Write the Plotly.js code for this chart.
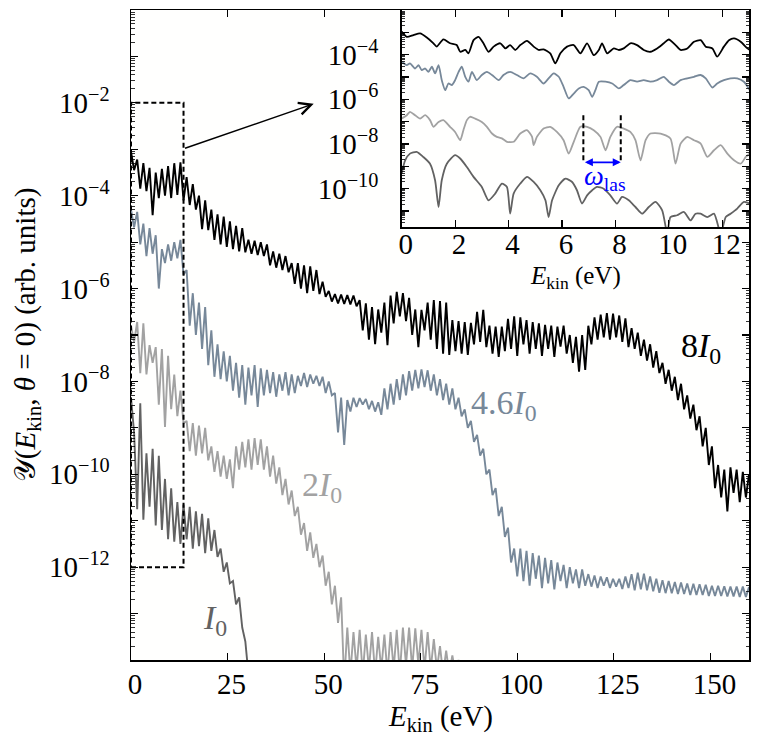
<!DOCTYPE html>
<html>
<head>
<meta charset="utf-8">
<script src="https://cdn.plot.ly/plotly-3.0.1.min.js"></script>
<style>
  html, body { margin: 0; padding: 0; background: #fff; }
  #chart { width: 765px; height: 741px; }
</style>
</head>
<body>
<div id="chart"></div>
<script>
// Energy grid of the main panel (eV)
const eGrid = [
  0,0.8,1.6,2.4,3.2,4,4.8,5.6,6.4,7.2,
  8,8.8,9.6,10.4,11.2,12,12.8,13.6,14.4,15.2,
  16,16.8,17.6,18.4,19.2,20,20.8,21.6,22.4,23.2,
  24,24.8,25.6,26.4,27.2,28,28.8,29.6,30.4,31.2,
  32,32.8,33.6,34.4,35.2,36,36.8,37.6,38.4,39.2,
  40,40.8,41.6,42.4,43.2,44,44.8,45.6,46.4,47.2,
  48,48.8,49.6,50.4,51.2,52,52.8,53.6,54.4,55.2,
  56,56.8,57.6,58.4,59.2,60,60.8,61.6,62.4,63.2,
  64,64.8,65.6,66.4,67.2,68,68.8,69.6,70.4,71.2,
  72,72.8,73.6,74.4,75.2,76,76.8,77.6,78.4,79.2,
  80,80.8,81.6,82.4,83.2,84,84.8,85.6,86.4,87.2,
  88,88.8,89.6,90.4,91.2,92,92.8,93.6,94.4,95.2,
  96,96.8,97.6,98.4,99.2,100,100.8,101.6,102.4,103.2,
  104,104.8,105.6,106.4,107.2,108,108.8,109.6,110.4,111.2,
  112,112.8,113.6,114.4,115.2,116,116.8,117.6,118.4,119.2,
  120,120.8,121.6,122.4,123.2,124,124.8,125.6,126.4,127.2,
  128,128.8,129.6,130.4,131.2,132,132.8,133.6,134.4,135.2,
  136,136.8,137.6,138.4,139.2,140,140.8,141.6,142.4,143.2,
  144,144.8,145.6,146.4,147.2,148,148.8,149.6,150.4,151.2,
  152,152.8,153.6,154.4,155.2,156,156.8,157.6,158.4,159.2,
  160
];

// log10 of the yield, one value per grid point
const log8I0 = [
  -3.05,-3.45,-3.22,-3.85,-3.3,-3.9,-3.4,-4.42,-3.5,-4.05,
  -3.42,-4.0,-3.36,-4.05,-3.3,-3.98,-3.28,-4.1,-3.6,-4.2,
  -3.75,-4.3,-4.0,-4.72,-4.1,-4.74,-4.3,-4.95,-4.4,-5.05,
  -4.45,-5.1,-4.55,-5.15,-4.65,-5.2,-4.7,-5.22,-4.95,-5.25,
  -4.97,-5.28,-5.0,-5.3,-5.05,-5.5,-5.2,-5.55,-5.25,-5.6,
  -5.3,-5.65,-5.45,-5.9,-5.45,-6.0,-5.5,-6.1,-5.52,-6.05,
  -5.6,-6.12,-5.85,-6.18,-6.05,-6.28,-6.12,-6.32,-6.13,-6.33,
  -6.14,-6.34,-6.15,-6.38,-6.25,-6.9,-6.32,-7.1,-6.4,-7.2,
  -6.45,-6.95,-6.3,-7.22,-6.15,-6.75,-6.07,-6.6,-6.1,-6.7,
  -6.2,-7.0,-6.45,-7.26,-6.46,-6.9,-6.3,-7.1,-6.25,-7.3,
  -6.27,-7.4,-6.3,-7.43,-6.68,-7.35,-6.7,-7.4,-6.72,-7.43,
  -6.74,-7.2,-6.5,-7.15,-6.46,-7.26,-6.8,-7.4,-6.82,-7.47,
  -6.82,-7.35,-6.65,-7.3,-6.6,-7.45,-6.62,-7.2,-6.68,-7.4,
  -6.72,-7.3,-6.75,-7.45,-6.78,-7.3,-6.8,-7.47,-6.82,-7.25,
  -6.8,-7.4,-7.0,-7.6,-7.04,-7.79,-7.0,-7.75,-6.8,-7.2,
  -6.62,-7.1,-6.56,-7.05,-6.53,-7.1,-6.54,-7.05,-6.58,-7.15,
  -6.64,-7.26,-6.85,-7.3,-6.95,-7.45,-7.1,-7.55,-7.2,-7.7,
  -7.35,-7.82,-7.6,-8.05,-7.75,-8.2,-7.9,-8.4,-8.05,-8.6,
  -8.3,-8.8,-8.5,-9.05,-8.75,-9.4,-9.0,-9.8,-9.4,-10.3,
  -9.8,-10.5,-9.9,-10.8,-9.85,-10.4,-9.9,-10.6,-9.95,-10.5,
  -10.0
];

const log46I0 = [
  -4.3,-4.68,-4.35,-5.05,-4.6,-5.3,-4.7,-5.25,-4.85,-6.0,
  -5.15,-5.45,-5.05,-5.4,-5.0,-5.35,-4.95,-5.7,-5.6,-6.8,
  -6.1,-7.0,-6.3,-7.3,-6.4,-7.65,-6.9,-7.9,-7.2,-7.95,
  -7.35,-8.0,-7.45,-8.2,-7.6,-8.35,-7.65,-8.5,-7.7,-8.3,
  -7.65,-8.55,-7.72,-8.3,-7.75,-8.25,-7.8,-8.33,-7.85,-8.2,
  -7.8,-8.3,-7.85,-8.25,-7.88,-8.1,-7.82,-8.12,-7.85,-8.05,
  -7.88,-8.1,-7.9,-8.25,-8.0,-8.3,-8.25,-9.1,-8.35,-9.37,
  -8.4,-8.65,-8.35,-8.55,-8.36,-8.5,-8.38,-8.6,-8.42,-8.65,
  -8.45,-8.72,-8.15,-8.6,-8.05,-8.5,-7.95,-8.4,-7.85,-8.3,
  -7.78,-8.2,-7.75,-8.15,-7.74,-8.12,-7.76,-8.2,-7.85,-8.3,
  -7.95,-8.4,-8.05,-8.5,-8.15,-8.6,-8.35,-8.75,-8.6,-9.0,
  -8.85,-9.3,-9.15,-9.6,-9.45,-10.0,-9.9,-10.45,-10.3,-10.9,
  -10.7,-11.35,-11.15,-11.9,-11.6,-12.2,-11.6,-12.3,-11.65,-12.4,
  -11.7,-12.25,-11.75,-12.45,-11.8,-12.35,-11.85,-12.48,-11.9,-12.3,
  -11.95,-12.45,-12.0,-12.35,-12.05,-12.45,-12.05,-12.4,-12.15,-12.42,
  -12.18,-12.45,-12.2,-12.4,-12.22,-12.45,-12.25,-12.42,-12.25,-12.47,
  -12.2,-12.45,-12.15,-12.5,-12.12,-12.48,-12.14,-12.5,-12.2,-12.52,
  -12.25,-12.55,-12.28,-12.56,-12.3,-12.56,-12.32,-12.58,-12.33,-12.58,
  -12.35,-12.6,-12.36,-12.6,-12.37,-12.6,-12.38,-12.62,-12.4,-12.62,
  -12.4,-12.62,-12.41,-12.63,-12.42,-12.63,-12.42,-12.64,-12.42,-12.64,
  -12.43
];

const log2I0 = [
  -6.8,-7.15,-6.72,-7.82,-6.75,-7.85,-7.22,-7.6,-7.26,-8.5,
  -7.3,-8.98,-7.45,-8.6,-7.85,-8.75,-8.2,-8.9,-8.85,-9.5,
  -8.9,-9.6,-8.95,-9.55,-9.0,-9.7,-9.4,-9.95,-9.5,-10.05,
  -9.6,-10.1,-9.68,-10.3,-9.4,-9.9,-9.3,-9.85,-9.25,-9.9,
  -9.22,-9.8,-9.25,-9.9,-9.4,-10.05,-9.6,-10.2,-9.85,-10.45,
  -10.1,-10.65,-10.35,-10.9,-10.7,-11.3,-11.05,-11.65,-11.25,-11.8,
  -11.5,-12.0,-11.75,-12.4,-12.1,-12.8,-12.4,-13.2,-12.65,-14.5,
  -13.3,-14.3,-13.4,-14.2,-13.35,-14.3,-13.45,-14.2,-13.4,-14.3,
  -13.5,-14.2,-13.45,-14.3,-13.4,-14.2,-13.35,-14.3,-13.3,-14.1,
  -13.3,-14.2,-13.32,-14.1,-13.35,-14.2,-13.4,-14.2,-13.55,-14.2,
  -13.7,-14.3,-13.8,-14.3,-13.9,-14.3,-14.0,-14.4
];

const log1I0 = [
  -8.35,-9.1,-10.75,-8.47,-10.98,-9.55,-10.7,-9.45,-11.1,-9.6,
  -11.2,-10.1,-11.4,-10.3,-11.45,-10.6,-11.5,-10.65,-11.4,-10.7,
  -11.6,-10.8,-11.55,-10.85,-11.7,-10.95,-11.65,-11.2,-11.78,-11.6,
  -12.1,-11.9,-12.35,-12.3,-12.8,-12.65,-13.3,-13.6,-14.3
];

// Inset: low-energy part, E (eV) and log10 yield
const insetE8 = [0,0.19,0.44,0.69,0.94,1.19,1.31,1.56,1.81,2.06,2.19,2.38,2.5,2.69,2.88,3.06,3.25,3.44,3.69,3.88,
  4.06,4.25,4.44,4.69,4.94,5.13,5.31,5.56,5.75,5.94,6.19,6.44,6.69,6.94,7.19,7.38,7.5,7.69,7.94,8.13,
  8.31,8.56,8.81,9.06,9.31,9.56,9.81,10.0,10.25,10.44,10.69,10.94,11.19,11.38,11.63,11.81,12.06,12.25,12.44,12.69,12.94,13.03];
const insetLog8 = [-2.97,-3.2,-3.12,-3.05,-3.23,-3.49,-3.64,-3.32,-3.49,-3.57,-3.87,-3.79,-3.94,-3.35,-3.2,-3.49,-3.87,-3.64,-3.49,-3.72,
  -3.57,-3.79,-3.57,-3.38,-3.64,-3.79,-3.76,-3.94,-4.39,-3.94,-3.64,-3.57,-3.94,-3.49,-4.02,-3.79,-3.49,-3.94,-3.72,-3.79,
  -3.72,-3.49,-3.57,-3.79,-3.87,-3.72,-3.49,-3.32,-3.57,-3.79,-3.72,-3.42,-3.35,-3.64,-3.72,-4.09,-3.64,-3.35,-3.27,-3.42,-3.72,-3.79];

const insetE46 = [0,0.19,0.31,0.5,0.63,0.75,0.88,1.0,1.13,1.25,1.38,1.5,1.63,1.75,1.88,2.0,2.13,2.25,2.38,2.5,
  2.63,2.81,3.0,3.19,3.38,3.63,3.81,4.06,4.31,4.56,4.81,5.06,5.31,5.5,5.69,5.88,6.06,6.25,6.44,6.63,
  6.81,7.0,7.13,7.25,7.38,7.63,7.88,8.13,8.31,8.56,8.81,9.06,9.31,9.56,9.81,10.0,10.19,10.44,10.69,10.94,
  11.19,11.38,11.63,11.81,12.06,12.31,12.56,12.81,13.03];
const insetLog46 = [-4.32,-4.47,-4.39,-4.62,-4.47,-4.69,-4.62,-4.77,-4.54,-4.84,-4.47,-5.14,-5.59,-5.29,-5.36,-5.14,-4.77,-4.54,-4.99,-5.21,
  -4.77,-5.14,-4.91,-4.77,-4.91,-5.14,-4.91,-4.77,-4.91,-5.06,-4.84,-4.99,-5.29,-5.06,-4.84,-4.99,-5.44,-5.96,-5.74,-5.51,
  -5.44,-5.59,-5.89,-5.59,-5.21,-5.21,-5.29,-5.51,-5.36,-5.14,-5.21,-5.14,-5.21,-5.14,-4.99,-5.21,-5.36,-5.14,-5.06,-4.99,
  -4.91,-5.06,-5.47,-5.29,-5.14,-5.06,-5.06,-5.21,-5.59];

const insetE2 = [0,0.19,0.31,0.5,0.69,0.88,1.06,1.19,1.38,1.56,1.81,2.0,2.19,2.31,2.44,2.56,2.75,3.0,3.19,3.38,
  3.56,3.75,3.94,4.19,4.44,4.69,4.88,4.94,5.06,5.31,5.56,5.81,6.06,6.25,6.44,6.69,6.94,7.19,7.44,7.63,
  7.81,8.06,8.31,8.56,8.75,8.94,9.13,9.31,9.69,10.06,10.25,10.44,10.69,10.94,11.19,11.44,11.69,11.94,12.19,12.44,
  12.69,12.88,13.03];
const insetLog2 = [-6.86,-6.71,-6.56,-6.71,-6.86,-6.71,-6.93,-7.23,-7.01,-6.93,-7.23,-7.46,-7.83,-7.38,-6.93,-6.78,-6.86,-7.01,-7.23,-7.53,
  -7.68,-7.75,-7.9,-7.9,-7.53,-7.38,-7.68,-8.05,-7.68,-7.31,-7.23,-7.46,-7.83,-8.43,-7.9,-7.23,-7.23,-7.38,-7.68,-8.28,
  -7.68,-7.23,-7.31,-7.46,-7.83,-8.73,-7.83,-7.53,-7.53,-7.75,-8.88,-7.98,-7.68,-7.83,-7.98,-8.58,-8.28,-8.05,-8.43,-8.73,
  -8.88,-8.58,-8.43];

const insetE1 = [0,0.13,0.31,0.56,0.81,1.06,1.25,1.38,1.5,1.69,2.0,2.19,2.44,2.69,3.0,3.25,3.5,3.75,3.94,4.06,
  4.19,4.44,4.69,4.94,5.19,5.38,5.5,5.63,5.88,6.13,6.38,6.56,6.75,6.94,7.13,7.31,7.56,7.81,8.06,8.25,
  8.5,8.75,9.0,9.25,9.5,9.75,9.94,10.06,10.31,10.56,10.81,11.0,11.19,11.44,11.69,11.94,12.13,12.31,12.56,12.81,13.03];
const insetLog1 = [-9.32,-8.73,-8.43,-8.35,-8.58,-8.88,-9.62,-10.82,-9.62,-8.88,-8.5,-8.65,-9.03,-9.47,-9.92,-10.52,-10.22,-9.77,-9.92,-11.12,
  -10.22,-9.77,-9.47,-9.7,-10.07,-10.52,-11.27,-10.52,-9.85,-9.55,-9.7,-10.07,-10.67,-10.3,-10.07,-9.92,-10.0,-10.3,-10.67,-10.37,
  -10.52,-10.82,-11.12,-10.82,-10.59,-10.97,-12.0,-11.27,-11.19,-11.04,-11.42,-11.12,-11.12,-11.27,-11.12,-12.0,-11.27,-11.12,-10.89,-10.59,-10.67];

const seriesNames = ['8I0', '4.6I0', '2I0', 'I0'];
const seriesColors = ['#000000', '#778899', '#a2a2a2', '#626262'];

// zoom window (main panel) and laser-period markers (inset)
const zoomWindow = { e0: 0, e1: 13.6, log0: -12, log1: -2 };
const lasMarks = { e0: 6.8, e1: 8.2, logTop: -6.71, logArrow: -8.82 };

const FONT = '"Liberation Serif", "Times New Roman", serif';
const toLin = arr => arr.map(v => Math.pow(10, v));

// axis geometry, shared by axes and by the paper-referenced decorations
const MAIN_X = [0, 160], MAIN_LOG = [-14, 0];
const INSET_X = [0, 13], INSET_LOG = [-11.72, -2];
const INSET_DX = [0.438, 1], INSET_DY = [0.666, 1];

const mainPx = e => (e - MAIN_X[0]) / (MAIN_X[1] - MAIN_X[0]);
const mainPy = lg => (lg - MAIN_LOG[0]) / (MAIN_LOG[1] - MAIN_LOG[0]);
const insetPx = e => INSET_DX[0] + (INSET_DX[1] - INSET_DX[0]) * (e - INSET_X[0]) / (INSET_X[1] - INSET_X[0]);
const insetPy = lg => INSET_DY[0] + (INSET_DY[1] - INSET_DY[0]) * (lg - INSET_LOG[0]) / (INSET_LOG[1] - INSET_LOG[0]);

function mainTrace(logs, i) {
  return {
    x: eGrid.slice(0, logs.length), y: toLin(logs),
    type: 'scatter', mode: 'lines', name: seriesNames[i],
    line: { color: seriesColors[i], width: 1.9 },
    xaxis: 'x', yaxis: 'y', hoverinfo: 'skip'
  };
}

function insetTrace(xs, logs, i) {
  return {
    x: xs, y: toLin(logs),
    type: 'scatter', mode: 'lines', name: seriesNames[i],
    line: { color: seriesColors[i], width: 1.8, shape: 'spline', smoothing: 0.6 },
    xaxis: 'x2', yaxis: 'y2', hoverinfo: 'skip'
  };
}

// decade ticks, labels only on the listed exponents
function logTicks(lo, hi, labelled) {
  const vals = [], text = [];
  for (let e = lo; e <= hi; e++) {
    vals.push(Math.pow(10, e));
    text.push(labelled.includes(e) ? '10<sup>\u2212' + (-e) + '</sup>' : ' ');
  }
  return { vals, text };
}

function minorTicks(lo, hi) {
  const vals = [];
  for (let e = lo; e <= hi; e++) {
    for (let m = 2; m <= 9; m++) vals.push(m * Math.pow(10, e));
  }
  return vals;
}

const mainY = logTicks(-13, -1, [-12, -10, -8, -6, -4, -2]);
const insetY = logTicks(-11, -3, [-10, -8, -6, -4]);

const frame = {
  showline: true, linewidth: 1.5, linecolor: '#000', mirror: 'allticks',
  ticks: 'inside', ticklen: 7, tickwidth: 1.1, tickcolor: '#000',
  showgrid: false, zeroline: false,
  tickfont: { family: FONT, size: 29, color: '#000' }
};

const traces = [
  mainTrace(log8I0, 0), mainTrace(log46I0, 1), mainTrace(log2I0, 2), mainTrace(log1I0, 3),
  insetTrace(insetE8, insetLog8, 0), insetTrace(insetE46, insetLog46, 1),
  insetTrace(insetE2, insetLog2, 2), insetTrace(insetE1, insetLog1, 3)
];

const dashed = { color: '#000', width: 2, dash: '5px,3px' };

function label(x, y, text, size, color, extra) {
  return Object.assign({ xref: 'paper', yref: 'paper', x, y, text, showarrow: false,
    xanchor: 'center', yanchor: 'middle', font: { family: FONT, size, color } }, extra || {});
}

const layout = {
  width: 765, height: 741,
  margin: { l: 131, r: 16, t: 10, b: 81 },
  paper_bgcolor: '#ffffff',
  plot_bgcolor: '#fffffe',
  showlegend: false,
  hovermode: false,
  font: { family: FONT, size: 28, color: '#000' },
  xaxis: Object.assign({}, frame, {
    domain: [0, 1], anchor: 'y', range: MAIN_X,
    tickmode: 'array', tickvals: [0, 25, 50, 75, 100, 125, 150],
    ticklabelstandoff: -2, ticklabelshift: 4
  }),
  yaxis: Object.assign({}, frame, {
    domain: [0, 1], anchor: 'x', type: 'log', range: MAIN_LOG,
    tickmode: 'array', tickvals: mainY.vals, ticktext: mainY.text,
    ticklabelstandoff: 14,
    minor: { tickvals: minorTicks(-14, -1), ticks: 'inside', ticklen: 3.5, tickwidth: 0.8, tickcolor: '#000' }
  }),
  xaxis2: Object.assign({}, frame, {
    domain: INSET_DX, anchor: 'y2', range: INSET_X,
    tickmode: 'array', tickvals: [0, 2, 4, 6, 8, 10, 12],
    ticklabelstandoff: -9, ticklabelshift: 4
  }),
  yaxis2: Object.assign({}, frame, {
    domain: INSET_DY, anchor: 'x2', type: 'log', range: INSET_LOG,
    tickmode: 'array', tickvals: insetY.vals, ticktext: insetY.text,
    ticklabelstandoff: 16,
    minor: { tickvals: minorTicks(-12, -3), ticks: 'inside', ticklen: 3, tickwidth: 0.8, tickcolor: '#000' }
  }),
  shapes: [
    { type: 'rect', xref: 'paper', yref: 'paper',
      x0: mainPx(zoomWindow.e0), x1: mainPx(zoomWindow.e1),
      y0: mainPy(zoomWindow.log0), y1: mainPy(zoomWindow.log1), line: dashed },
    { type: 'line', xref: 'paper', yref: 'paper',
      x0: insetPx(lasMarks.e0), x1: insetPx(lasMarks.e0),
      y0: insetPy(lasMarks.logTop), y1: insetPy(lasMarks.logArrow), line: dashed },
    { type: 'line', xref: 'paper', yref: 'paper',
      x0: insetPx(lasMarks.e1), x1: insetPx(lasMarks.e1),
      y0: insetPy(lasMarks.logTop), y1: insetPy(lasMarks.logArrow), line: dashed }
  ],
  annotations: [
    { xref: 'x', yref: 'y', x: 47.3, y: -2.02, axref: 'x', ayref: 'y', ax: zoomWindow.e1, ay: -2.99,
      text: '', showarrow: true, arrowhead: 5, arrowsize: 1.6, arrowwidth: 1.5, arrowcolor: '#000' },
    { xref: 'x2', yref: 'y2', x: lasMarks.e1, y: lasMarks.logArrow, axref: 'x2', ayref: 'y2',
      ax: lasMarks.e0, ay: lasMarks.logArrow,
      text: '', showarrow: true, arrowside: 'end+start', arrowhead: 2, arrowsize: 1, arrowwidth: 1.6, arrowcolor: '#0000ff' },
    label(insetPx(7.6), insetPy(-9.5), '<i>ω</i><sub>las</sub>', 28, '#0000ff'),
    label(0.922, 0.48, '8<i>I</i><sub>0</sub>', 34, seriesColors[0]),
    label(0.6036, 0.392, '4.6<i>I</i><sub>0</sub>', 34, seriesColors[1]),
    label(0.309, 0.266, '2<i>I</i><sub>0</sub>', 34, seriesColors[2]),
    label(0.136, 0.0615, '<i>I</i><sub>0</sub>', 34, seriesColors[3]),
    // axis titles
    label(0.5, -0.089, '<i>E</i><sub>kin</sub> (eV)', 29, '#000'),
    label(-0.168, 0.5, '𝒴(<i>E</i><sub>kin</sub>, <i>θ</i> = 0) (arb. units)', 29, '#000', { textangle: -90 }),
    label(0.72, 0.588, '<i>E</i><sub>kin</sub> (eV)', 25, '#000')
  ]
};

Plotly.newPlot('chart', traces, layout, { displayModeBar: false, staticPlot: true });
</script>
</body>
</html>
